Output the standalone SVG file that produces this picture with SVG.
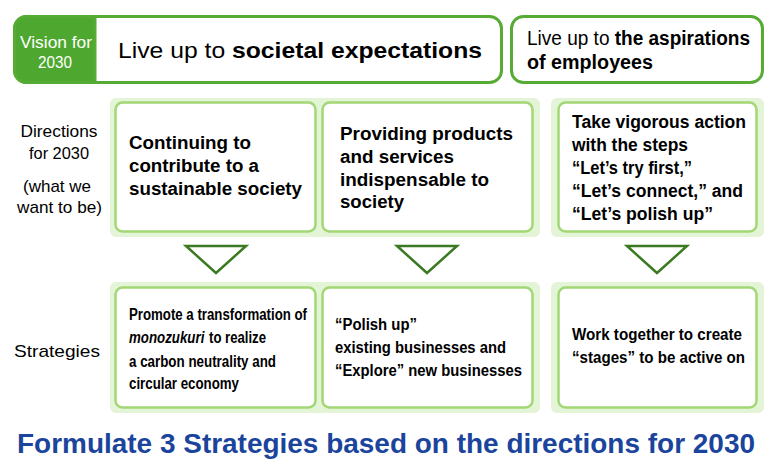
<svg xmlns="http://www.w3.org/2000/svg" width="779" height="472" viewBox="0 0 779 472">
<style>
text{font-family:"Liberation Sans",Arial,sans-serif;fill:#000}
.b{font-weight:bold}
.box{fill:#fff;stroke:#a3d675;stroke-width:2.5}
.bg{fill:#e4f4d6}
.top{fill:#fff;stroke:#55ab33;stroke-width:3}
.lbl{font-size:17px}
.dir{font-size:17.5px;font-weight:bold}
.st{font-size:16px;font-weight:bold}
.tri{fill:#fff;stroke:#3b7a22;stroke-width:2.5}
</style>
<rect x="0" y="0" width="779" height="472" fill="#fff"/>
<g id="vision-societal">
<rect class="top" x="14.5" y="16.5" width="487" height="66" rx="12"/>
<path d="M14.5 28.5a12 12 0 0 1 12-12H95v66H26.5a12 12 0 0 1-12-12z" fill="#4ea82f" stroke="#55ab33" stroke-width="3"/>
<text x="56" y="48" font-size="16" style="fill:#fff" text-anchor="middle" textLength="72" lengthAdjust="spacingAndGlyphs">Vision for</text>
<text x="55" y="68" font-size="16" style="fill:#fff" text-anchor="middle" textLength="34" lengthAdjust="spacingAndGlyphs">2030</text>
<text x="118" y="58" font-size="22" textLength="364" lengthAdjust="spacingAndGlyphs">Live up to <tspan class="b">societal expectations</tspan></text>
</g>
<g id="vision-employees">
<rect class="top" x="511.5" y="16.5" width="251" height="66" rx="12"/>
<text x="527" y="45" font-size="20" textLength="223" lengthAdjust="spacingAndGlyphs">Live up to <tspan class="b">the aspirations</tspan></text>
<text x="527" y="69" font-size="20" class="b" textLength="126" lengthAdjust="spacingAndGlyphs">of employees</text>
</g>
<g id="row-labels">
<text class="lbl" x="59" y="137" text-anchor="middle" textLength="77" lengthAdjust="spacingAndGlyphs">Directions</text>
<text class="lbl" x="59" y="159" text-anchor="middle" textLength="60" lengthAdjust="spacingAndGlyphs">for 2030</text>
<text class="lbl" x="57" y="192" text-anchor="middle" textLength="68" lengthAdjust="spacingAndGlyphs">(what we</text>
<text class="lbl" x="59.5" y="213" text-anchor="middle" textLength="85" lengthAdjust="spacingAndGlyphs">want to be)</text>
<text class="lbl" x="57" y="357" text-anchor="middle" textLength="86" lengthAdjust="spacingAndGlyphs">Strategies</text>
</g>
<g id="backgrounds">
<rect class="bg" x="110" y="98" width="430" height="139" rx="6"/>
<rect class="bg" x="551" y="98" width="213" height="139" rx="6"/>
<rect class="bg" x="110" y="282" width="430" height="131" rx="6"/>
<rect class="bg" x="551" y="282" width="213" height="131" rx="6"/>
</g>
<g id="dir-1">
<rect class="box" x="115.5" y="102.5" width="200" height="129" rx="7"/>
<text class="dir" x="129" y="149" textLength="122" lengthAdjust="spacingAndGlyphs">Continuing to</text>
<text class="dir" x="129" y="172" textLength="130" lengthAdjust="spacingAndGlyphs">contribute to a</text>
<text class="dir" x="129" y="195" textLength="173" lengthAdjust="spacingAndGlyphs">sustainable society</text>
</g>
<g id="dir-2">
<rect class="box" x="322.5" y="102.5" width="210" height="129" rx="7"/>
<text class="dir" x="340" y="140" textLength="173" lengthAdjust="spacingAndGlyphs">Providing products</text>
<text class="dir" x="340" y="163" textLength="114" lengthAdjust="spacingAndGlyphs">and services</text>
<text class="dir" x="340" y="186" textLength="149" lengthAdjust="spacingAndGlyphs">indispensable to</text>
<text class="dir" x="340" y="208" textLength="64" lengthAdjust="spacingAndGlyphs">society</text>
</g>
<g id="dir-3">
<rect class="box" x="558.5" y="102.5" width="198" height="129" rx="7"/>
<text class="dir" x="572" y="128" textLength="174" lengthAdjust="spacingAndGlyphs">Take vigorous action</text>
<text class="dir" x="572" y="151" textLength="116" lengthAdjust="spacingAndGlyphs">with the steps</text>
<text class="dir" x="572" y="174" textLength="120" lengthAdjust="spacingAndGlyphs">“Let’s try first,”</text>
<text class="dir" x="572" y="197" textLength="171" lengthAdjust="spacingAndGlyphs">“Let’s connect,” and</text>
<text class="dir" x="572" y="220" textLength="141" lengthAdjust="spacingAndGlyphs">“Let’s polish up”</text>
</g>
<g id="connectors">
<polygon class="tri" points="186,246 246,246 216,273"/>
<polygon class="tri" points="397,246 457,246 427,273"/>
<polygon class="tri" points="627,246 687,246 657,273"/>
</g>
<g id="strat-1">
<rect class="box" x="115.5" y="287.5" width="200" height="120" rx="7"/>
<text class="st" x="129" y="320" textLength="178" lengthAdjust="spacingAndGlyphs">Promote a transformation of</text>
<text x="129" y="343" font-size="13.3" font-weight="bold" font-style="italic" transform="matrix(1 0 0 1.2 0 -68.6)">monozukuri</text>
<text class="st" x="209" y="343" textLength="57" lengthAdjust="spacingAndGlyphs">to realize</text>
<text class="st" x="129" y="367" textLength="147" lengthAdjust="spacingAndGlyphs">a carbon neutrality and</text>
<text class="st" x="129" y="389" textLength="110" lengthAdjust="spacingAndGlyphs">circular economy</text>
</g>
<g id="strat-2">
<rect class="box" x="322.5" y="287.5" width="210" height="120" rx="7"/>
<text class="st" x="335" y="330" textLength="82" lengthAdjust="spacingAndGlyphs">“Polish up”</text>
<text class="st" x="335" y="353" textLength="171" lengthAdjust="spacingAndGlyphs">existing businesses and</text>
<text class="st" x="335" y="376" textLength="187" lengthAdjust="spacingAndGlyphs">“Explore” new businesses</text>
</g>
<g id="strat-3">
<rect class="box" x="558.5" y="287.5" width="198" height="120" rx="7"/>
<text class="st" x="572" y="340" textLength="170" lengthAdjust="spacingAndGlyphs">Work together to create</text>
<text class="st" x="572" y="363" textLength="173" lengthAdjust="spacingAndGlyphs">“stages” to be active on</text>
</g>
<g id="title">
<text x="17" y="453" font-size="27" font-weight="bold" style="fill:#1b449c" textLength="738" lengthAdjust="spacingAndGlyphs">Formulate 3 Strategies based on the directions for 2030</text>
</g>
</svg>
